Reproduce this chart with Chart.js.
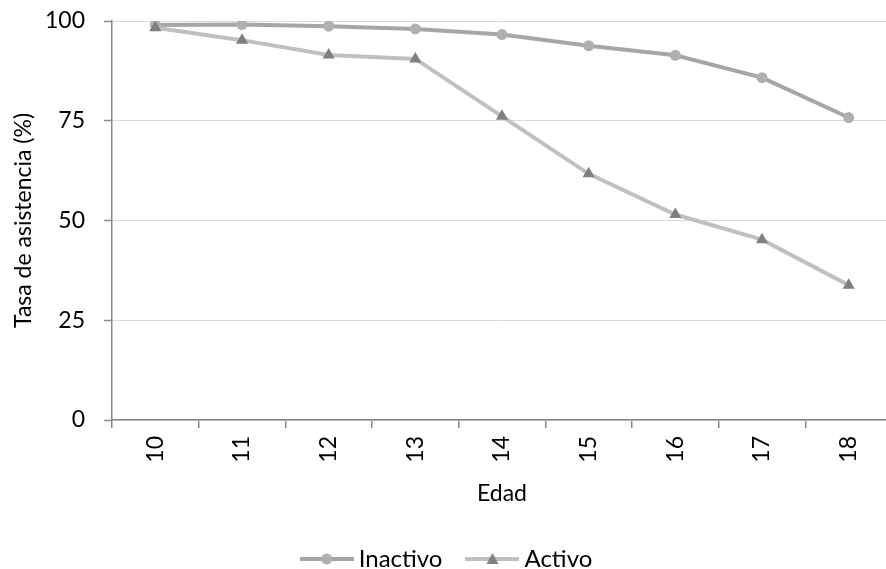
<!DOCTYPE html>
<html>
<head>
<meta charset="utf-8">
<script src="https://cdn.jsdelivr.net/npm/chart.js@4.4.1/dist/chart.umd.min.js"></script>
<style>
    html, body { margin: 0; padding: 0; background: #ffffff; overflow: hidden; }
    #wrap { width: 886px; height: 569px; overflow: hidden; }
    #wrap canvas { display: block; }
</style>
</head>
<body>
<div id="wrap"><canvas id="asistenciaChart" width="899" height="581"></canvas></div>
<script>
const edades = ['10', '11', '12', '13', '14', '15', '16', '17', '18'];
const inactivo = [99.0, 99.1, 98.7, 98.0, 96.6, 93.8, 91.4, 85.8, 75.8];
const activo = [98.3, 95.2, 91.5, 90.5, 76.1, 61.7, 51.5, 45.2, 33.8];
const yTicks = [0, 25, 50, 75, 100];

const axisGray = '#898989';
const fontFamily = 'Lato, "Open Sans", sans-serif';

function legendSwatch(lineColor, markerColor, marker) {
    const c = document.createElement('canvas');
    c.width = 54;
    c.height = 14;
    const ctx = c.getContext('2d');
    ctx.strokeStyle = lineColor;
    ctx.lineWidth = 4;
    ctx.beginPath();
    ctx.moveTo(0, 7);
    ctx.lineTo(54, 7);
    ctx.stroke();
    ctx.fillStyle = markerColor;
    ctx.beginPath();
    if (marker === 'circle') {
        ctx.arc(27, 7, 5.5, 0, Math.PI * 2);
    } else {
        ctx.moveTo(27, 1);
        ctx.lineTo(33, 12);
        ctx.lineTo(21, 12);
        ctx.closePath();
    }
    ctx.fill();
    return c;
}

const swatches = [
    legendSwatch('#A6A6A6', '#B0B0B0', 'circle'),
    legendSwatch('#C0C0C0', '#7F7F7F', 'triangle'),
];

Chart.defaults.font.family = fontFamily;
Chart.defaults.color = '#000000';

new Chart(document.getElementById('asistenciaChart'), {
    type: 'line',
    data: {
        labels: edades,
        datasets: [{
            label: 'Inactivo',
            data: inactivo,
            borderColor: '#A6A6A6',
            backgroundColor: '#B0B0B0',
            borderWidth: 4,
            pointStyle: 'circle',
            pointRadius: 5.5,
            pointBorderWidth: 0,
            pointBackgroundColor: '#B0B0B0',
            tension: 0,
            order: 1,
        }, {
            label: 'Activo',
            data: activo,
            borderColor: '#C0C0C0',
            backgroundColor: '#7F7F7F',
            borderWidth: 4,
            pointStyle: 'triangle',
            pointRadius: 7,
            pointBorderWidth: 0,
            pointBackgroundColor: '#7F7F7F',
            tension: 0,
            order: 0,
        }],
    },
    options: {
        responsive: false,
        animation: false,
        devicePixelRatio: 1,
        layout: { padding: { top: 21, right: 0, bottom: 0, left: 0 } },
        plugins: {
            tooltip: { enabled: false },
            legend: {
                position: 'bottom',
                labels: {
                    usePointStyle: true,
                    pointStyleWidth: 40,
                    padding: 30,
                    color: '#000000',
                    font: { size: 24 },
                    generateLabels: (chart) => chart.data.datasets.map((ds, i) => ({
                        text: ds.label,
                        pointStyle: swatches[i],
                        fontColor: '#000000',
                        datasetIndex: i,
                        lineWidth: 0,
                    })),
                },
            },
        },
        scales: {
            x: {
                offset: true,
                grid: {
                    offset: true,
                    drawOnChartArea: false,
                    color: axisGray,
                    tickLength: 8,
                    lineWidth: 1.5,
                },
                border: { color: axisGray, width: 1.5 },
                ticks: {
                    minRotation: 90,
                    maxRotation: 90,
                    padding: 8,
                    font: { size: 23 },
                    color: '#000000',
                },
                title: {
                    display: true,
                    text: 'Edad',
                    font: { size: 23 },
                    color: '#000000',
                    padding: { top: 0, bottom: 10 },
                },
                afterFit: (scale) => {
                    scale.height = 97;
                    scale.paddingLeft = 0;
                    scale.paddingRight = 0;
                },
            },
            y: {
                min: 0,
                max: 100,
                afterBuildTicks: (scale) => { scale.ticks = yTicks.map((v) => ({ value: v })); },
                grid: {
                    color: '#D9D9D9',
                    borderDash: [3, 3],
                    tickColor: axisGray,
                    tickBorderDash: [],
                    tickLength: 8,
                    tickWidth: 1.5,
                },
                border: { color: axisGray, width: 1.5 },
                ticks: {
                    padding: 19,
                    font: { size: 23 },
                    color: '#000000',
                },
                title: {
                    display: true,
                    text: 'Tasa de asistencia (%)',
                    font: { size: 23 },
                    color: '#000000',
                    padding: { top: 10, bottom: 0 },
                },
                afterFit: (scale) => {
                    scale.width = 112;
                    scale.paddingTop = 0;
                    scale.paddingBottom = 0;
                },
            },
        },
    },
});
</script>
</body>
</html>
